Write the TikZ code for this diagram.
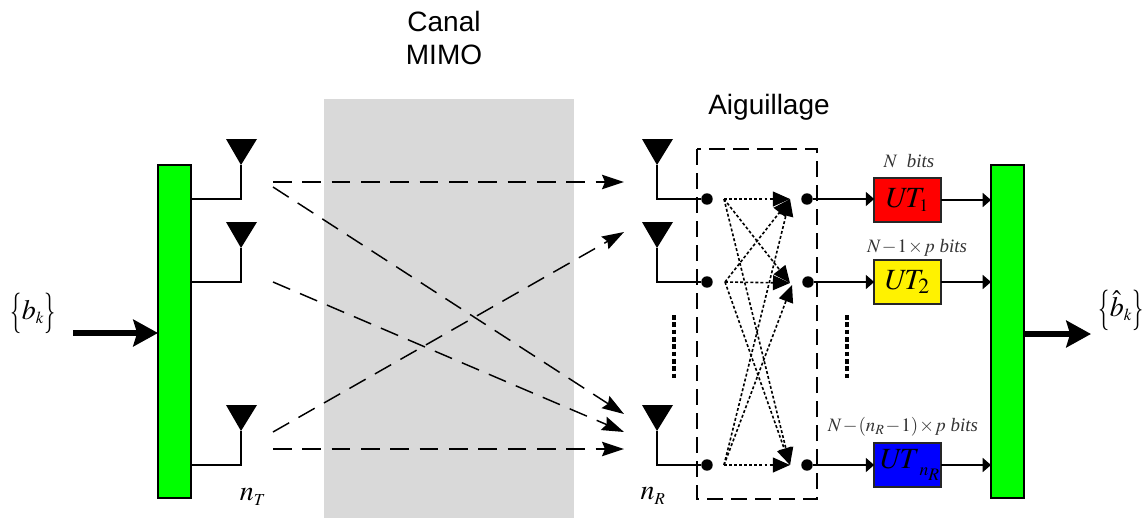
\documentclass[tikz,border=0pt]{standalone}
\usepackage{amsmath}
\usepackage{mathptmx}
\usepackage{fontspec}
\setmainfont{Liberation Sans}
\newfontfamily\serifit{Liberation Serif}
\usetikzlibrary{arrows.meta}
\newcommand{\lbr}{\raisebox{-3.5pt}{\scalebox{0.8}[1.45]{$\{$}}}
\newcommand{\rbr}{\raisebox{-3.5pt}{\scalebox{0.8}[1.45]{$\}$}}}

\begin{document}
\begin{tikzpicture}[
  x=0.75pt,y=-0.75pt,
  >={Stealth[length=6.5mm,width=7mm,inset=1mm]},
  bar/.style={draw=black,line width=2.2pt,fill=green,minimum width=24.75pt,minimum height=249.75pt,inner sep=0pt,outer sep=0pt},
  utbox/.style={draw=black!85,line width=1.2pt,fill=#1,minimum width=50pt,minimum height=33pt,inner sep=0pt,outer sep=0pt,font=\fontsize{22}{22}\selectfont},
  dot/.style={circle,fill=black,minimum size=8.6pt,inner sep=0pt,outer sep=0pt},
  wire/.style={line width=1.4pt},
  link/.style={->,line width=1.3pt,>={Triangle[length=2.2mm,width=3.7mm]}},
  chan/.style={->,line width=1.1pt,dash pattern=on 14pt off 8pt,>={Stealth[length=5.8mm,width=3.8mm,inset=0.8mm]}},
  sw/.style={->,line width=1.2pt,dash pattern=on 2.2pt off 1.6pt,>={Triangle[length=4.5mm,width=3.9mm]}},
  fat/.style={->,line width=5pt},
  lab/.style={font=\fontsize{21}{24.75}\selectfont,align=center},
  bits/.style={font=\serifit\itshape\fontsize{14.2}{15}\selectfont,text=black!80},
  mlab/.style={font=\fontsize{21}{21}\selectfont},
  vdots/.style={line width=2.4pt,dash pattern=on 3.5pt off 2pt}
]
\useasboundingbox (0,0) rectangle (1142,518);

\fill[black!15] (324,99) rectangle (574,518);
\node[lab] (canal) at (444,38) {Canal\\MIMO};
\node[lab] (aig) at (769,107) {Aiguillage};

\node[bar] (lbar) at (174.5,331.5) {};
\node[bar] (rbar) at (1007.5,331.5) {};

% switch
\draw[line width=1.3pt,dash pattern=on 12pt off 6pt] (697,149) rectangle (817,499);
\node[dot] (in1) at (707,199) {};
\node[dot] (in2) at (707,282) {};
\node[dot] (in3) at (707,465) {};
\node[dot] (out1) at (807,199) {};
\node[dot] (out2) at (808,282) {};
\node[dot] (out3) at (807,465) {};

% antennas
\foreach \i/\ya in {1/165,2/248,3/431}{
  \coordinate (tx\i) at (241,\ya);
  \coordinate (rx\i) at (657,\ya);
  \fill (tx\i) -- ++(-15,-26) -- ++(31,0) -- cycle;
  \fill (rx\i) -- ++(-15,-26) -- ++(31,0) -- cycle;
  \draw[wire] (tx\i) |- (lbar.east |- in\i);
  \draw[wire] (rx\i) |- (in\i);
}

% channel links
\coordinate (a1) at (273,182);
\coordinate (a2) at (273,187);
\coordinate (a3) at (273,282);
\coordinate (a4) at (273,432);
\coordinate (a5) at (273,449);
\coordinate (b1) at (624,182);
\coordinate (b2) at (624,232);
\coordinate (b3) at (624,414);
\coordinate (b4) at (624,432);
\coordinate (b5) at (624,449);
\foreach \a/\b in {a1/b1,a2/b3,a3/b4,a4/b2,a5/b5}
  \draw[chan] (\a) -- (\b);

% switch paths
\coordinate (s1) at (724,199);
\coordinate (s2) at (725,282);
\coordinate (s3) at (724,465);
\coordinate (t1) at (790,199);
\coordinate (t2) at (790,283);
\coordinate (t2c) at (792,285);
\coordinate (t3) at (790,465);
\foreach \a/\b in {s1/t1,s1/t2,s1/t3,s2/t1,s2/t2,s2/t3,s3/t1,s3/t2c,s3/t3}
  \draw[sw] (\a) -- (\b);

% vertical dots
\coordinate (v1) at (674,315);
\coordinate (v2) at (674,378);
\coordinate (v3) at (847,315);
\coordinate (v4) at (847,378);
\draw[vdots] (v1) -- (v2);
\draw[vdots] (v3) -- (v4);

% decoding units
\node[utbox=red] (ut1) at (907.5,200) {$U\!T_{\scriptscriptstyle 1}$};
\node[utbox=yellow] (ut2) at (907.5,282) {$U\!T_{2}$};
\node[utbox=blue] (ut3) at (907.5,465) {\kern4pt\raisebox{2pt}{$U\!T$}\raisebox{-3pt}{$\scriptscriptstyle n_R$}};
\medmuskip=1mu
\thinmuskip=1mu
\node[bits] (lb1) at (909,161) {$N$\ \ bits};
\node[bits] (lb2) at (917,248) {$N-1\times p$ bits};
\node[bits] (lb3) at (903,427) {$N-(n_R-1)\times p$ bits};
\foreach \i in {1,2,3}{
  \draw[link] (out\i) -- (out\i -| ut\i.west);
  \draw[link] (ut\i) -- (rbar.west |- ut\i);
}

% input and output
\coordinate (din) at (73,333);
\coordinate (dout) at (1091,334);
\draw[fat] (din) -- (lbar.west |- din);
\draw[fat] (rbar.east |- dout) -- (dout);
\node[mlab] (bk) at (33,314) {\lbr$b_{\scriptscriptstyle k}$\rbr};
\node[mlab] (bhat) at (1121,311) {\lbr$\hat{b}_{\scriptscriptstyle k}$\rbr};
\node[mlab] (nt) at (253,497) {$n_{\scriptscriptstyle T}$};
\node[mlab] (nr) at (653,496) {$n_{\scriptscriptstyle R}$};
\end{tikzpicture}
\end{document}
